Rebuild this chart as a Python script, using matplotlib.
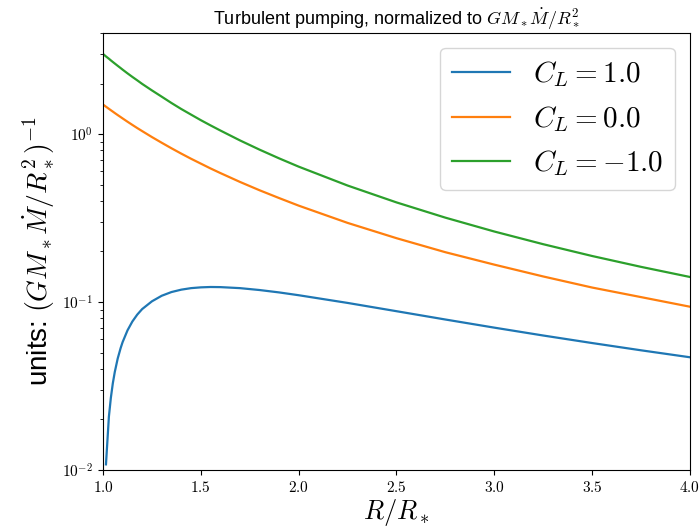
import matplotlib
matplotlib.use("Agg")
import matplotlib.pyplot as plt
from matplotlib.ticker import LogLocator, NullFormatter, NullLocator

plt.rcParams["mathtext.fontset"] = "cm"
plt.rcParams["font.family"] = ["Liberation Sans", "DejaVu Sans"]

R = [1.0, 1.015, 1.03, 1.04, 1.05, 1.06, 1.075, 1.09, 1.1, 1.125, 1.15, 1.175,
     1.2, 1.25, 1.3, 1.35, 1.4, 1.45, 1.5, 1.55, 1.6, 1.7, 1.8, 1.9, 2.0, 2.25,
     2.5, 2.75, 3.0, 3.25, 3.5, 3.75, 4.0]

pump_cl_p1 = [0.0, 0.0108, 0.0208, 0.0269, 0.0328, 0.0383, 0.0461, 0.0532,
              0.0577, 0.0678, 0.0766, 0.0842, 0.0908, 0.101, 0.109, 0.1147,
              0.1185, 0.1210, 0.1223, 0.1229, 0.1227, 0.1210, 0.1179, 0.1141,
              0.1098, 0.0988, 0.0882, 0.0787, 0.0704, 0.0632, 0.0570, 0.0516,
              0.0469]
pump_cl_0 = [1.50, 1.456, 1.414, 1.387, 1.361, 1.335, 1.298, 1.263, 1.240,
             1.185, 1.134, 1.086, 1.042, 0.960, 0.888, 0.823, 0.765, 0.713,
             0.667, 0.624, 0.586, 0.519, 0.463, 0.416, 0.375, 0.296, 0.240,
             0.198, 0.167, 0.142, 0.122, 0.107, 0.0938]
pump_cl_m1 = [3.00, 2.90, 2.81, 2.747, 2.688, 2.632, 2.55, 2.472, 2.42, 2.30,
              2.19, 2.089, 1.99, 1.82, 1.67, 1.531, 1.41, 1.306, 1.21, 1.126,
              1.05, 0.917, 0.808, 0.717, 0.640, 0.494, 0.392, 0.318, 0.263,
              0.221, 0.188, 0.162, 0.141]

labels = [r"$C_L = 1.0$", r"$C_L = 0.0$", r"$C_L = -1.0$"]

fig = plt.figure(figsize=(6.99, 5.31), dpi=100)
ax = fig.add_axes([0.1474, 0.1149, 0.8396, 0.823])

ax.plot(R, pump_cl_p1, label=labels[0], color="#1f77b4", lw=1.6)
ax.plot(R, pump_cl_0, label=labels[1], color="#ff7f0e", lw=1.6)
ax.plot(R, pump_cl_m1, label=labels[2], color="#2ca02c", lw=1.6)

ax.set_yscale("log", nonpositive="mask")
ax.set_xlim(1.0, 4.0)
ax.set_ylim(1e-2, 4.0)

xt = [1.0, 1.5, 2.0, 2.5, 3.0, 3.5, 4.0]
ax.set_xticks(xt)
ax.set_xticklabels([r"$%.1f$" % v for v in xt], fontsize=11)
ax.xaxis.set_minor_locator(NullLocator())
ax.set_yticks([1e-2, 1e-1, 1e0])
ax.set_yticklabels([r"$10^{-2}$", r"$10^{-1}$", r"$10^{0}$"], fontsize=11)
ax.yaxis.set_minor_locator(LogLocator(base=10, subs=range(2, 10), numticks=20))
ax.yaxis.set_minor_formatter(NullFormatter())

ax.set_xlabel(r"$R/R_*$", fontsize=19, labelpad=2)
ax.set_ylabel(r"units: $(GM_*\dot{M}/R_*^2)^{-1}$", fontsize=20)
ax.set_title(r"Turbulent pumping, normalized to $GM_*\dot{M}/R_*^2$",
             fontsize=13)

ax.legend(fontsize=21, loc="upper right")

fig.savefig("out.png", dpi=100)
